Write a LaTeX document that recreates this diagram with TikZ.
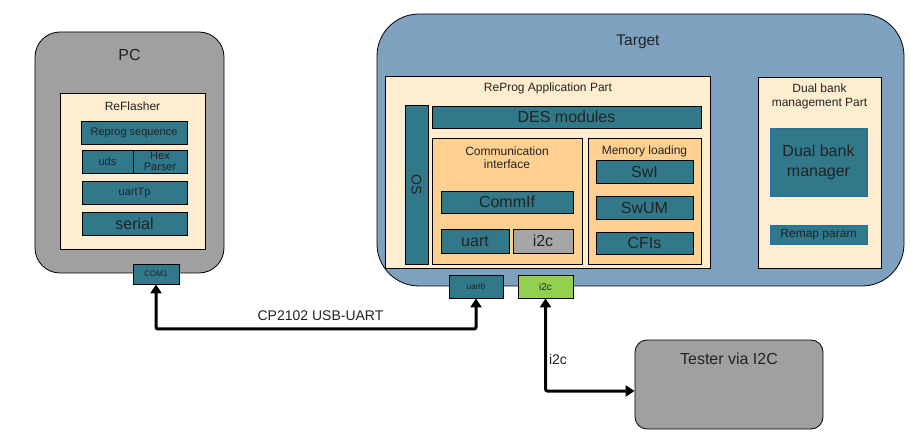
\documentclass[tikz,border=0pt]{standalone}
\usepackage{fontspec}
\setmainfont{Liberation Sans}
\usetikzlibrary{arrows.meta}
\definecolor{teal1}{HTML}{31798A}
\definecolor{cream}{HTML}{FFEDD0}
\definecolor{orng}{HTML}{FFD08F}
\definecolor{pcgray}{HTML}{A0A0A0}
\definecolor{tgtblue}{HTML}{7FA1C0}
\definecolor{grn}{HTML}{92D050}
\definecolor{gry}{HTML}{A6A6A6}
\definecolor{txt}{HTML}{222222}
\definecolor{dbblue}{HTML}{1F6FA8}
\newcommand{\fs}[1]{\fontsize{#1}{#1}\selectfont}
\tikzset{
  every node/.style={text=txt, inner sep=0pt, align=center},
  bx/.style={draw=black, line width=0.8pt, rectangle},
  tealbox/.style={bx, fill=teal1},
  creambox/.style={bx, fill=cream},
  orbox/.style={bx, fill=orng},
  conn/.style={line width=3pt, rounded corners=2pt, {Triangle[length=9pt,width=11pt]}-{Triangle[length=9pt,width=11pt]}},
}
\begin{document}
\begin{tikzpicture}[x=1pt,y=-1pt]
\useasboundingbox (0,0) rectangle (913,438);
% PC
\node[bx, fill=pcgray, rounded corners=25pt, minimum width=189, minimum height=241] (pc) at (129.5,152.5) {};
\node[font=\fs{16}] (pclbl) at (129.5,55) {PC};
\node[creambox, minimum width=145, minimum height=156] (refl) at (132.5,171) {};
\node[font=\fs{12}] (refllbl) at (132.5,106) {ReFlasher};
\node[tealbox, font=\fs{11}, minimum width=106, minimum height=23] (rs) at (134,132.5) {Reprog sequence};
\node[tealbox, font=\fs{11}, minimum width=51, minimum height=23] (uds) at (107.5,161.5) {uds};
\node[tealbox, font={\fontsize{11}{11}\selectfont}, minimum width=54, minimum height=23] (hex) at (160,161.5) {Hex\\Parser};
\node[tealbox, font=\fs{11}, minimum width=105, minimum height=23] (utp) at (134.5,192.5) {uartTp};
\node[tealbox, font=\fs{16}, minimum width=105, minimum height=23] (ser) at (134.5,223.5) {serial};
\node[tealbox, font=\fs{8}, minimum width=46, minimum height=20] (com1) at (156,274) {COM1};
% Target
\node[bx, fill=tgtblue, rounded corners=42pt, minimum width=527, minimum height=272] (tgt) at (640.5,150) {};
\node[font=\fs{15.5}] (tgtlbl) at (638,42) {Target};
\node[creambox, minimum width=325, minimum height=192] (rap) at (547.5,172) {};
\node[font=\fs{12}] (raplbl) at (548,88) {ReProg Application Part};
\node[tealbox, minimum width=23, minimum height=159] (os) at (416.5,184.5) {};
\node[rotate=-90, font=\fs{14}] (oslbl) at (416.5,184.5) {OS};
\node[tealbox, font=\fs{16}, minimum width=269, minimum height=22] (des) at (566.5,117) {DES modules};
\node[orbox, minimum width=150, minimum height=126] (comm) at (507,201) {};
\node[font={\fontsize{12}{13.5}\selectfont}] (commlbl) at (507,157.5) {Communication\\interface};
\node[tealbox, font=\fs{16}, minimum width=132, minimum height=22] (cif) at (507,202) {CommIf};
\node[tealbox, font=\fs{16}, minimum width=68, minimum height=24] (uart) at (475,241) {uart};
\node[bx, fill=gry, font=\fs{16}, minimum width=60, minimum height=24] (i2cin) at (543,241) {i2c};
\node[orbox, minimum width=113, minimum height=126] (mem) at (644.5,201) {};
\node[font=\fs{12}] (memlbl) at (644.5,151) {Memory loading};
\node[tealbox, font=\fs{16}, minimum width=97, minimum height=23] (swi) at (644.5,171.5) {SwI};
\node[tealbox, font=\fs{16}, minimum width=97, minimum height=23] (swum) at (644.5,207.5) {SwUM};
\node[tealbox, font=\fs{16}, minimum width=97, minimum height=22] (cfis) at (644.5,243) {CFIs};
\node[creambox, minimum width=123, minimum height=191] (dbp) at (819.5,172.5) {};
\node[font={\fontsize{12}{13.5}\selectfont}] (dbplbl) at (819.5,96.5) {Dual bank\\management Part};
\node[draw=dbblue, line width=0.8pt, fill=teal1, font={\fontsize{16}{20}\selectfont}, minimum width=97, minimum height=68] (dbm) at (818.5,162) {Dual bank\\manager};
\node[draw=dbblue, line width=0.8pt, fill=teal1, font=\fs{12}, minimum width=97, minimum height=19] (remap) at (818.5,234.5) {Remap param};
\node[tealbox, font=\fs{8}, minimum width=54, minimum height=23] (uart0) at (476,286.5) {uart0};
\node[bx, fill=grn, font=\fs{10}, minimum width=55, minimum height=23] (i2cg) at (545.5,286.5) {i2c};
% Tester
\node[bx, fill=pcgray, rounded corners=12pt, minimum width=188, minimum height=89] (tester) at (729,384.5) {};
\node[font=\fs{16}] (testlbl) at (729,359) {Tester via I2C};
% connectors
\coordinate (cpy) at (0,329);
\draw[conn] (com1.south) |- (cpy -| uart0.south) -- (uart0.south);
\draw[conn] (i2cg.south) |- ([yshift=-6.5pt]tester.west);
\node[font=\fs{14}] (cplbl) at (320.5,316) {CP2102 USB-UART};
\node[font=\fs{14}] (i2clbl) at (558,359) {i2c};
\end{tikzpicture}
\end{document}
